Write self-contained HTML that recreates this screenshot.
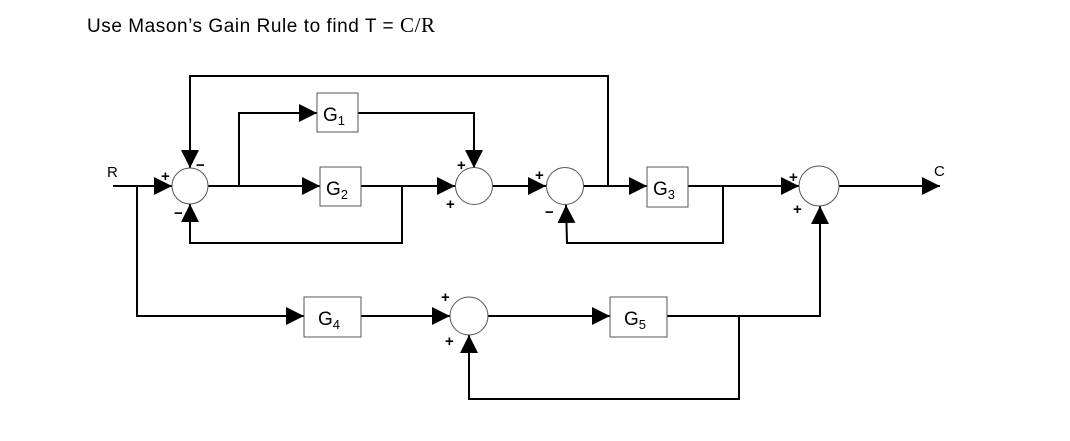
<!DOCTYPE html>
<html><head><meta charset="utf-8"><style>
body{margin:0;background:#fff;}
svg{display:block;}
</style></head><body>
<svg width="1070" height="441" viewBox="0 0 1070 441" xmlns="http://www.w3.org/2000/svg">
<defs>
<marker id="b" markerWidth="18" markerHeight="18" refX="16" refY="8" orient="auto" markerUnits="userSpaceOnUse" viewBox="0 0 16 16">
<path d="M0,0 L16,8 L0,16 z" fill="#000"/>
</marker>
</defs>
<text x="87" y="32" font-family="Liberation Sans, sans-serif" font-size="19" textLength="348" lengthAdjust="spacing">Use Mason’s Gain Rule to find T = <tspan font-family="Liberation Serif, serif" font-size="21">C/R</tspan></text>
<g fill="none" stroke="#000" stroke-width="2">
<line x1="113" y1="186" x2="172" y2="186" marker-end="url(#b)"/>
<polyline points="137,186 137,316 304,316" marker-end="url(#b)"/>
<polyline points="608,186 608,76 190,76 190,168" marker-end="url(#b)"/>
<line x1="208" y1="186" x2="320" y2="186" marker-end="url(#b)"/>
<polyline points="239,186 239,113 317,113" marker-end="url(#b)"/>
<polyline points="358,113 474,113 474,168" marker-end="url(#b)"/>
<line x1="361" y1="186" x2="455" y2="186" marker-end="url(#b)"/>
<polyline points="402,186 402,243 190,243 190,204" marker-end="url(#b)"/>
<line x1="492" y1="186" x2="546" y2="186" marker-end="url(#b)"/>
<line x1="583" y1="186" x2="647" y2="186" marker-end="url(#b)"/>
<line x1="688" y1="186" x2="799" y2="186" marker-end="url(#b)"/>
<polyline points="723,186 723,243 567,243 566,205" marker-end="url(#b)"/>
<line x1="839" y1="186" x2="940" y2="186" marker-end="url(#b)"/>
<line x1="361" y1="316" x2="450" y2="316" marker-end="url(#b)"/>
<line x1="488" y1="316" x2="610" y2="316" marker-end="url(#b)"/>
<polyline points="667,316 820,316 820,206" marker-end="url(#b)"/>
<polyline points="739,316 739,399 469,399 469,335" marker-end="url(#b)"/>
</g>
<g fill="#fff" stroke="#555" stroke-width="1">
<circle cx="190" cy="186" r="18"/>
<circle cx="474" cy="186" r="18.5"/>
<circle cx="565" cy="186" r="18.5"/>
<circle cx="819" cy="186" r="20"/>
<circle cx="469" cy="316" r="19"/>
<rect x="317" y="93" width="41" height="39"/>
<rect x="320" y="167" width="41" height="39"/>
<rect x="647" y="167" width="41" height="40"/>
<rect x="304" y="297" width="57" height="40"/>
<rect x="610" y="297" width="57" height="40"/>
</g>
<g font-family="Liberation Sans, sans-serif" font-size="19" text-anchor="middle">
<text x="334" y="121">G<tspan font-size="13" dy="4">1</tspan></text>
<text x="337" y="195">G<tspan font-size="13" dy="4">2</tspan></text>
<text x="664" y="195">G<tspan font-size="13" dy="4">3</tspan></text>
<text x="329" y="325">G<tspan font-size="13" dy="4">4</tspan></text>
<text x="635" y="325">G<tspan font-size="13" dy="4">5</tspan></text>
</g>
<g font-family="Liberation Sans, sans-serif" font-size="15">
<text x="107" y="177">R</text>
<text x="934" y="176">C</text>
</g>
<g font-family="Liberation Sans, sans-serif" font-size="15" font-weight="bold">
<text x="161" y="181">+</text>
<text x="196" y="170">−</text>
<text x="174" y="218">−</text>
<text x="457" y="170">+</text>
<text x="446" y="209">+</text>
<text x="535" y="180">+</text>
<text x="545" y="217">−</text>
<text x="789" y="182">+</text>
<text x="793" y="214">+</text>
<text x="441" y="302">+</text>
<text x="445" y="346">+</text>
</g>
</svg>
</body></html>
